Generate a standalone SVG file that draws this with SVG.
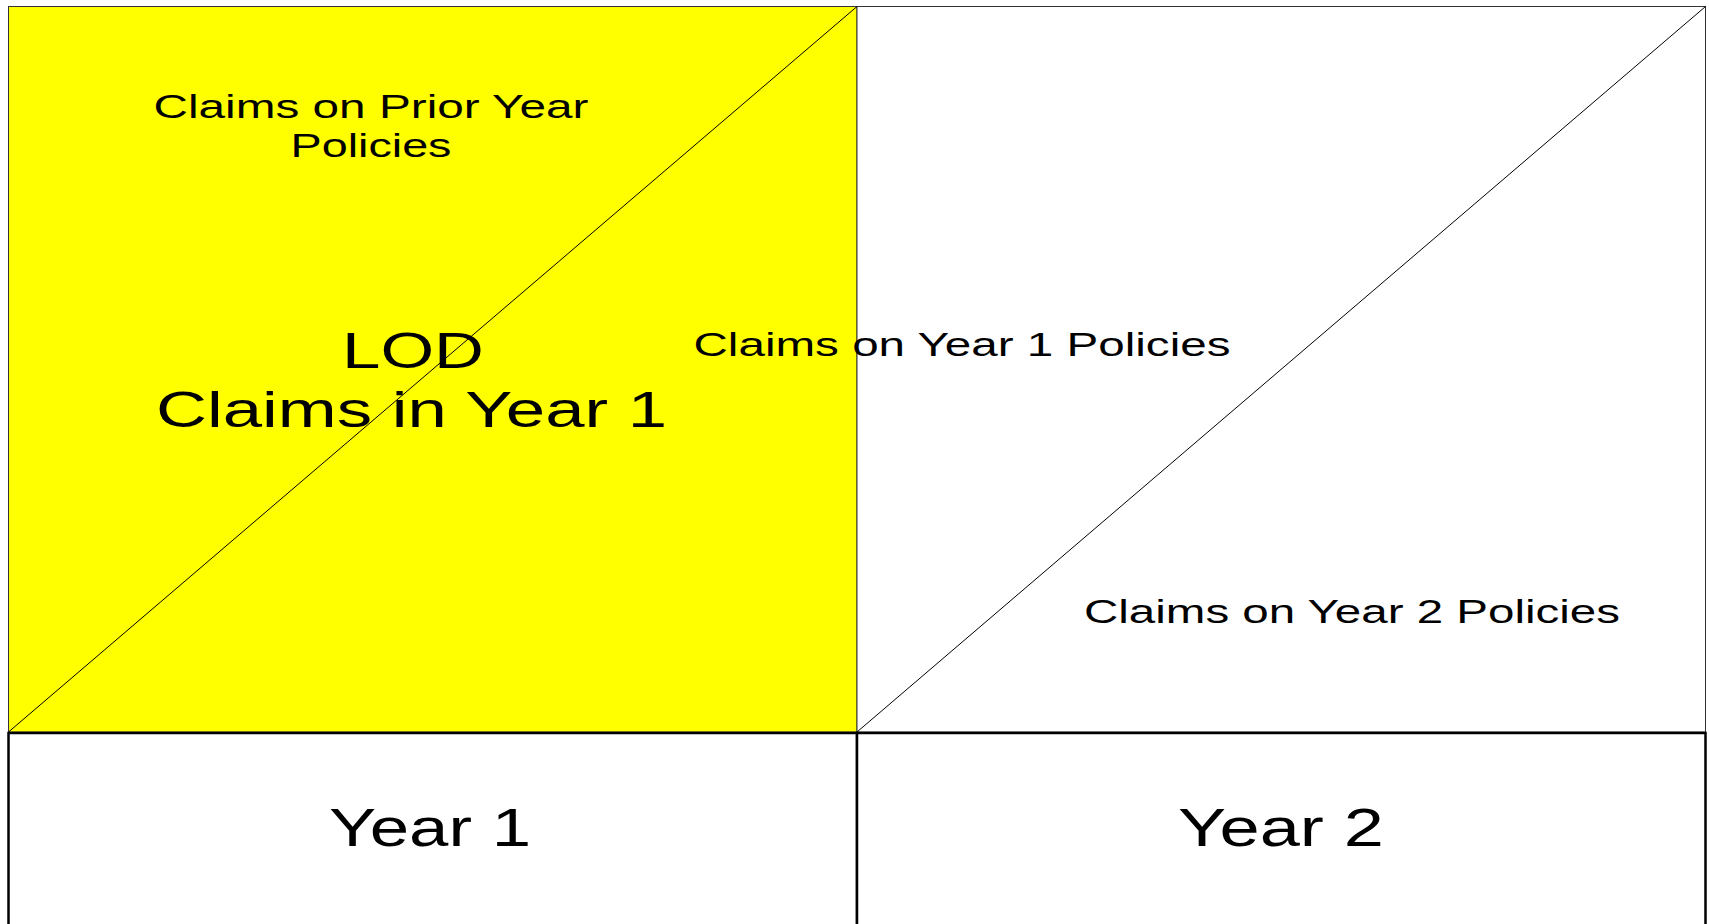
<svg xmlns="http://www.w3.org/2000/svg" width="1709" height="924" viewBox="0 0 1709 924">
  <style>
    .panel { stroke: #333333; stroke-width: 1; }
    .axis { fill: #ffffff; stroke: #000000; stroke-width: 2.5; }
    .diag { stroke: #000000; stroke-width: 1; fill: none; }
    text { font-family: "Liberation Sans", Arial, sans-serif; fill: #000000; text-anchor: middle; }
    .small { font-size: 34px; }
    .big { font-size: 50px; }
    .axis-label { font-size: 53px; }
  </style>
  <rect width="1709" height="924" fill="#ffffff"/>

  <!-- Year 1 panel (highlighted) -->
  <g id="panel-year1">
    <rect class="panel" x="8.5" y="6.5" width="848.5" height="725.5" fill="#ffff00"/>
  </g>

  <!-- Year 2 panel -->
  <g id="panel-year2">
    <rect class="panel" x="857" y="6.5" width="848.5" height="725.5" fill="#ffffff"/>
  </g>

  <!-- Diagonals separating claims by policy year -->
  <g id="connectors">
    <line class="diag" x1="8.5" y1="732" x2="857" y2="6.5"/>
    <line class="diag" x1="857" y1="732" x2="1705.5" y2="6.5"/>
  </g>

  <!-- Year axis boxes -->
  <g id="axis-year1">
    <rect class="axis" x="8.5" y="733" width="848.5" height="220"/>
    <text class="axis-label" x="430" y="846" textLength="202" lengthAdjust="spacingAndGlyphs">Year 1</text>
  </g>
  <g id="axis-year2">
    <rect class="axis" x="857" y="733" width="848.5" height="220"/>
    <text class="axis-label" x="1281" y="846" textLength="206" lengthAdjust="spacingAndGlyphs">Year 2</text>
  </g>

  <g id="label-prior">
    <text class="small" x="371" y="118" textLength="435" lengthAdjust="spacingAndGlyphs">Claims on Prior Year</text>
    <text class="small" x="371" y="157" textLength="161" lengthAdjust="spacingAndGlyphs">Policies</text>
  </g>

  <g id="label-lod">
    <text class="big" x="413" y="368" textLength="142" lengthAdjust="spacingAndGlyphs">LOD</text>
    <text class="big" x="411.5" y="427" textLength="511" lengthAdjust="spacingAndGlyphs">Claims in Year 1</text>
  </g>

  <g id="label-year1-policies">
    <text class="small" x="962" y="356" textLength="537" lengthAdjust="spacingAndGlyphs">Claims on Year 1 Policies</text>
  </g>

  <g id="label-year2-policies">
    <text class="small" x="1352" y="623" textLength="536" lengthAdjust="spacingAndGlyphs">Claims on Year 2 Policies</text>
  </g>
</svg>
